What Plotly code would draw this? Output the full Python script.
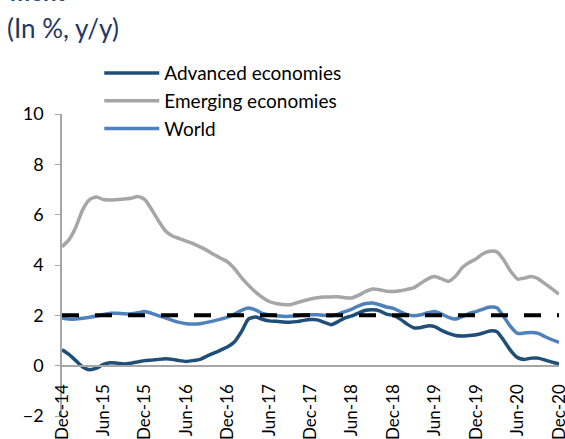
import pandas as pd
import plotly.graph_objects as go

months = pd.date_range("2014-12-01", "2020-12-01", freq="MS").strftime("%b-%y").tolist()

advanced = [0.63, 0.45, 0.2, -0.05, -0.16, -0.1, 0.05, 0.12, 0.1, 0.07, 0.1, 0.15,
            0.2, 0.22, 0.25, 0.27, 0.25, 0.2, 0.17, 0.2, 0.25, 0.38, 0.5, 0.62,
            0.75, 0.95, 1.35, 1.85, 1.93, 1.85, 1.78, 1.76, 1.74, 1.73, 1.75, 1.8,
            1.83, 1.82, 1.72, 1.63, 1.75, 1.9, 1.98, 2.1, 2.2, 2.22, 2.18, 2.05,
            2.0, 1.85, 1.65, 1.5, 1.52, 1.58, 1.55, 1.4, 1.28, 1.2, 1.18, 1.2,
            1.23, 1.3, 1.38, 1.35, 1.0, 0.6, 0.32, 0.25, 0.3, 0.3, 0.22, 0.14, 0.07]

emerging = [4.73, 5.0, 5.5, 6.2, 6.6, 6.7, 6.6, 6.58, 6.6, 6.62, 6.65, 6.72,
            6.6, 6.2, 5.75, 5.35, 5.15, 5.05, 4.95, 4.85, 4.72, 4.58, 4.42, 4.27,
            4.12, 3.85, 3.5, 3.2, 2.93, 2.72, 2.55, 2.47, 2.43, 2.42, 2.5, 2.58,
            2.65, 2.7, 2.73, 2.73, 2.74, 2.7, 2.69, 2.8, 2.95, 3.05, 3.02, 2.96,
            2.95, 2.98, 3.03, 3.1, 3.28, 3.45, 3.54, 3.45, 3.35, 3.55, 3.9, 4.1,
            4.25, 4.45, 4.55, 4.52, 4.2, 3.75, 3.44, 3.48, 3.54, 3.45, 3.25, 3.05, 2.84]

world = [1.89, 1.85, 1.85, 1.88, 1.92, 1.97, 2.03, 2.08, 2.08, 2.06, 2.06, 2.1,
         2.15, 2.08, 1.98, 1.9, 1.8, 1.72, 1.67, 1.66, 1.67, 1.72, 1.78, 1.85,
         1.93, 2.05, 2.2, 2.29, 2.22, 2.08, 2.02, 1.98, 1.96, 1.96, 1.98, 2.02,
         2.02, 2.02, 2.0, 1.98, 2.05, 2.15, 2.25, 2.38, 2.47, 2.49, 2.42, 2.33,
         2.28, 2.15, 2.03, 1.98, 2.02, 2.1, 2.15, 2.05, 1.92, 1.85, 1.95, 2.08,
         2.15, 2.25, 2.33, 2.3, 1.95, 1.55, 1.28, 1.3, 1.32, 1.28, 1.15, 1.03, 0.93]

target = [2.0, 2.0]
target_months = ["Dec-14", "Dec-20"]

tick_labels = ["Dec-14", "Jun-15", "Dec-15", "Jun-16", "Dec-16", "Jun-17", "Dec-17",
               "Jun-18", "Dec-18", "Jun-19", "Dec-19", "Jun-20", "Dec-20"]

FONT = "Lato"
GREY = "#A6A6A6"

fig = go.Figure()
fig.add_trace(go.Scatter(x=months, y=advanced, name="Advanced economies", mode="lines",
                         line=dict(color="#1F4E79", width=3.5, shape="spline", smoothing=0.6)))
fig.add_trace(go.Scatter(x=months, y=emerging, name="Emerging economies", mode="lines",
                         line=dict(color=GREY, width=3.5, shape="spline", smoothing=0.6)))
fig.add_trace(go.Scatter(x=months, y=world, name="World", mode="lines",
                         line=dict(color="#4F81BD", width=3.5, shape="spline", smoothing=0.6)))
fig.add_trace(go.Scatter(x=target_months, y=target, mode="lines", showlegend=False,
                         line=dict(color="black", width=4, dash="17px,16px")))

fig.update_layout(
    width=565, height=439,
    margin=dict(l=62, r=6, t=114, b=23, autoexpand=False),
    paper_bgcolor="white", plot_bgcolor="white",
    font=dict(family=FONT, size=18, color="black"),
    showlegend=True,
    legend=dict(x=0.075, y=1.198, xanchor="left", yanchor="top",
                bgcolor="rgba(0,0,0,0)", itemwidth=55, tracegroupgap=0,
                font=dict(family=FONT, size=19)),
    xaxis=dict(type="category", range=[0, len(months) - 1],
               anchor="free", position=2 / 12,
               tickmode="array", tickvals=tick_labels, ticktext=tick_labels,
               tickangle=-90, ticks="", showgrid=False, zeroline=False,
               showline=True, linecolor=GREY, linewidth=1.5,
               ticklabelstandoff=11,
               tickfont=dict(family=FONT, size=17)),
    yaxis=dict(range=[-2, 10], dtick=2, ticks="outside", ticklen=5, tickcolor=GREY,
               showline=True, linecolor=GREY, linewidth=1.5,
               showgrid=False, zeroline=False, ticklabelstandoff=8,
               tickfont=dict(family=FONT, size=18)),
)

fig.add_annotation(text="<b>ment</b>", xref="paper", yref="paper",
                   x=-54 / 497, y=1 + 106.5 / 302, xanchor="left", yanchor="bottom",
                   showarrow=False, font=dict(family=FONT, size=24, color="#1F4E79"))
fig.add_annotation(text="(In %, y/y)", xref="paper", yref="paper",
                   x=-57 / 497, y=1 + 86 / 302, xanchor="left", yanchor="middle",
                   showarrow=False, font=dict(family=FONT, size=26, color="#1F3864"))

# the page body has a default 8px margin; drop it so the figure sits at 0,0
fig.write_html("out.html", config={"displayModeBar": False},
               post_script="document.body.style.margin='0px';")
